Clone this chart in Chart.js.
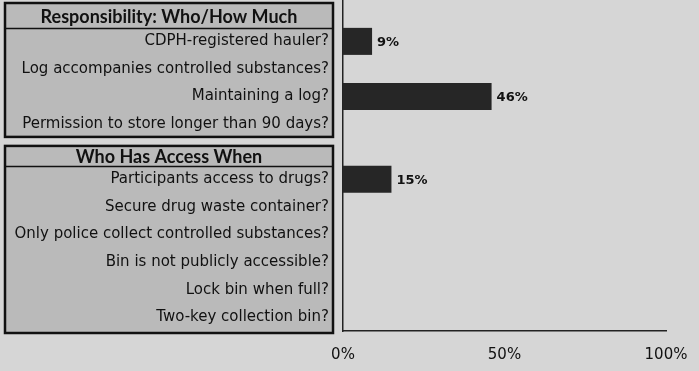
<!DOCTYPE html>
<html>
<head>
<meta charset="utf-8">
<script src="https://cdn.jsdelivr.net/npm/chart.js@4"></script>
<style>
  html, body { margin: 0; padding: 0; background: #d6d6d6; }
  canvas { display: block; }
</style>
</head>
<body>
<canvas id="survey" width="699" height="371"></canvas>
<script>
// rows of the chart, top to bottom; header rows carry no value
const categories = [
  'Responsibility: Who/How Much',
  'CDPH-registered hauler?',
  'Log accompanies controlled substances?',
  'Maintaining a log?',
  'Permission to store longer than 90 days?',
  'Who Has Access When',
  'Participants access to drugs?',
  'Secure drug waste container?',
  'Only police collect controlled substances?',
  'Bin is not publicly accessible?',
  'Lock bin when full?',
  'Two-key collection bin?'
];
const headerRows = [0, 5];
const groupEnds = [4, 11];
const shares = [null, 9, null, 46, null, null, 15, null, null, null, null, null];
const xTicks = [0, 50, 100];

const pageBg = '#d6d6d6';
const boxBg = '#bababa';
const ink = '#111';

// grey boxes with a header cell behind each group of questions
const groupBoxes = {
  id: 'groupBoxes',
  beforeDraw(chart) {
    const { ctx, chartArea, scales: { y } } = chart;
    const band = Math.abs(y.getPixelForValue(1) - y.getPixelForValue(0));
    ctx.save();
    ctx.fillStyle = pageBg;
    ctx.fillRect(0, 0, chart.width, chart.height);
    headerRows.forEach((h, i) => {
      const top = y.getPixelForValue(h) - band / 2 + (i === 0 ? 3 : 8);
      const bottom = y.getPixelForValue(groupEnds[i]) + band / 2 + (i === 0 ? -1 : 2);
      const left = 5, right = chartArea.left - 10;
      ctx.fillStyle = boxBg;
      ctx.fillRect(left, top, right - left, bottom - top);
      ctx.strokeStyle = ink;
      ctx.lineWidth = 2.5;
      ctx.strokeRect(left, top, right - left, bottom - top);
      const split = y.getPixelForValue(h) + band / 2 + 1;
      ctx.lineWidth = 1.5;
      ctx.beginPath();
      ctx.moveTo(left, split);
      ctx.lineTo(right, split);
      ctx.stroke();
      ctx.fillStyle = ink;
      ctx.font = 'bold 18px Lato';
      ctx.textAlign = 'center';
      ctx.textBaseline = 'middle';
      ctx.fillText(categories[h], (left + right) / 2, (top + split) / 2 + 1);
    });
    ctx.restore();
  },
  afterDatasetsDraw(chart) {
    const { ctx } = chart;
    const meta = chart.getDatasetMeta(0);
    ctx.save();
    ctx.fillStyle = ink;
    ctx.font = 'bold 13px "DejaVu Sans"';
    ctx.textAlign = 'left';
    ctx.textBaseline = 'middle';
    meta.data.forEach((bar, i) => {
      if (shares[i] == null) return;
      ctx.fillText(shares[i] + '%', bar.x + 5, bar.y + 1);
    });
    ctx.restore();
  }
};

new Chart(document.getElementById('survey'), {
  type: 'bar',
  data: {
    labels: categories,
    datasets: [{
      data: shares,
      backgroundColor: '#262626',
      borderWidth: 0,
      barPercentage: 0.98,
      categoryPercentage: 1
    }]
  },
  options: {
    indexAxis: 'y',
    responsive: false,
    animation: false,
    layout: { padding: { left: 0, right: 33, top: 0, bottom: 0 } },
    plugins: { legend: { display: false }, tooltip: { enabled: false } },
    scales: {
      y: {
        afterFit(scale) {
          scale.width = 343;
          scale.paddingTop = 0;
          scale.paddingBottom = 0;
        },
        grid: { display: false, drawTicks: false },
        border: { display: true, color: '#222', width: 1.5 },
        ticks: {
          padding: 14,
          color: ink,
          font: { family: 'DejaVu Sans', size: 15 },
          callback: (v, i) => headerRows.includes(i) ? '' : categories[i]
        }
      },
      x: {
        min: 0,
        max: 100,
        afterFit(scale) {
          scale.height = 40;
          scale.paddingLeft = 0;
          scale.paddingRight = 0;
        },
        afterBuildTicks(scale) { scale.ticks = xTicks.map(v => ({ value: v })); },
        grid: { display: false, drawTicks: false },
        border: { display: true, color: '#222', width: 1.5 },
        ticks: {
          padding: 15,
          color: ink,
          font: { family: 'DejaVu Sans', size: 15 },
          callback: v => v + '%'
        }
      }
    }
  },
  plugins: [groupBoxes]
});
</script>
</body>
</html>
